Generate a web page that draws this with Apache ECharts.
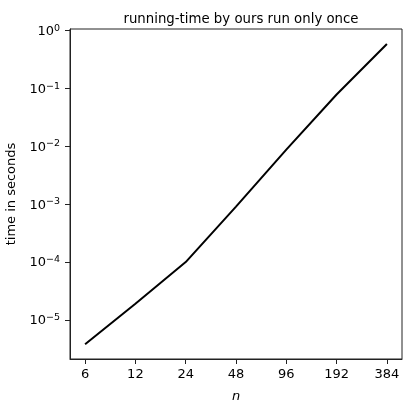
<!DOCTYPE html>
<html>
<head>
<meta charset="utf-8">
<script src="https://cdn.jsdelivr.net/npm/echarts@6/dist/echarts.min.js"></script>
<style>
  html, body { margin: 0; padding: 0; background: #fff; }
  #chart { width: 412px; height: 411px; }
</style>
</head>
<body>
<div id="chart"></div>
<script>
// problem sizes and measured running time (seconds)
const sizes = [6, 12, 24, 48, 96, 192, 384];
const times = [3.8e-6, 1.9e-5, 1.0e-4, 9.1e-4, 8.8e-3, 0.079, 0.59];
const xTicks = [6, 12, 24, 48, 96, 192, 384];
const yTicks = [1e-5, 1e-4, 1e-3, 1e-2, 1e-1, 1];

const font = 'DejaVu Sans';

const chart = echarts.init(document.getElementById('chart'), null, { renderer: 'canvas' });

const option = {
    backgroundColor: '#fff',
    animation: false,
    title: {
        text: 'running-time by ours run only once',
        left: 236, top: 8,
        textAlign: 'center',
        textStyle: { fontFamily: font, fontSize: 13.3, fontWeight: 'normal', color: '#000' }
    },
    grid: {
        left: 70, right: 10, top: 29, bottom: 52,
        outerBoundsMode: 'none',
        containLabel: false,
        show: true, borderColor: '#222', borderWidth: 1, backgroundColor: 'transparent'
    },
    xAxis: {
        type: 'log',
        logBase: 2,
        min: 6 / Math.pow(2, 0.3),
        max: 384 * Math.pow(2, 0.3),
        name: 'n',
        nameLocation: 'middle',
        nameGap: 31,
        nameTextStyle: { fontFamily: font, fontSize: 13, fontStyle: 'italic', color: '#000' },
        axisLine: { show: true, lineStyle: { color: '#222', width: 1 } },
        axisTick: { show: true, inside: false, length: 5, customValues: xTicks, lineStyle: { color: '#222' } },
        axisLabel: {
            customValues: xTicks,
            margin: 9,
            fontFamily: font, fontSize: 13, color: '#000',
            formatter: v => String(Math.round(v))
        },
        splitLine: { show: false },
        minorTick: { show: false }
    },
    yAxis: {
        type: 'log',
        logBase: 10,
        min: Math.pow(10, -5.676),
        max: Math.pow(10, 0.03),
        name: 'time in seconds',
        nameLocation: 'middle',
        nameGap: 47,
        nameRotate: 90,
        nameTextStyle: { fontFamily: font, fontSize: 13, color: '#000' },
        axisLine: { show: true, lineStyle: { color: '#222', width: 1 } },
        axisTick: { show: true, inside: false, length: 5, customValues: yTicks, lineStyle: { color: '#222' } },
        axisLabel: {
            customValues: yTicks,
            margin: 10,
            fontFamily: font, fontSize: 13, color: '#000',
            formatter: v => {
                const e = String(Math.round(Math.log10(v))).replace('-', '\u2212');
                return '{b|10}{s|' + e + '}';
            },
            rich: {
                b: { fontFamily: font, fontSize: 13, color: '#000', lineHeight: 15, verticalAlign: 'bottom' },
                s: { fontFamily: font, fontSize: 9.5, color: '#000', lineHeight: 7, verticalAlign: 'top' }
            }
        },
        splitLine: { show: false },
        minorTick: { show: false }
    },
    series: [{
        type: 'line',
        data: sizes.map((n, i) => [n, times[i]]),
        symbol: 'none',
        lineStyle: { color: '#000', width: 2 },
        itemStyle: { color: '#000' }
    }]
};

chart.setOption(option);
</script>
</body>
</html>
